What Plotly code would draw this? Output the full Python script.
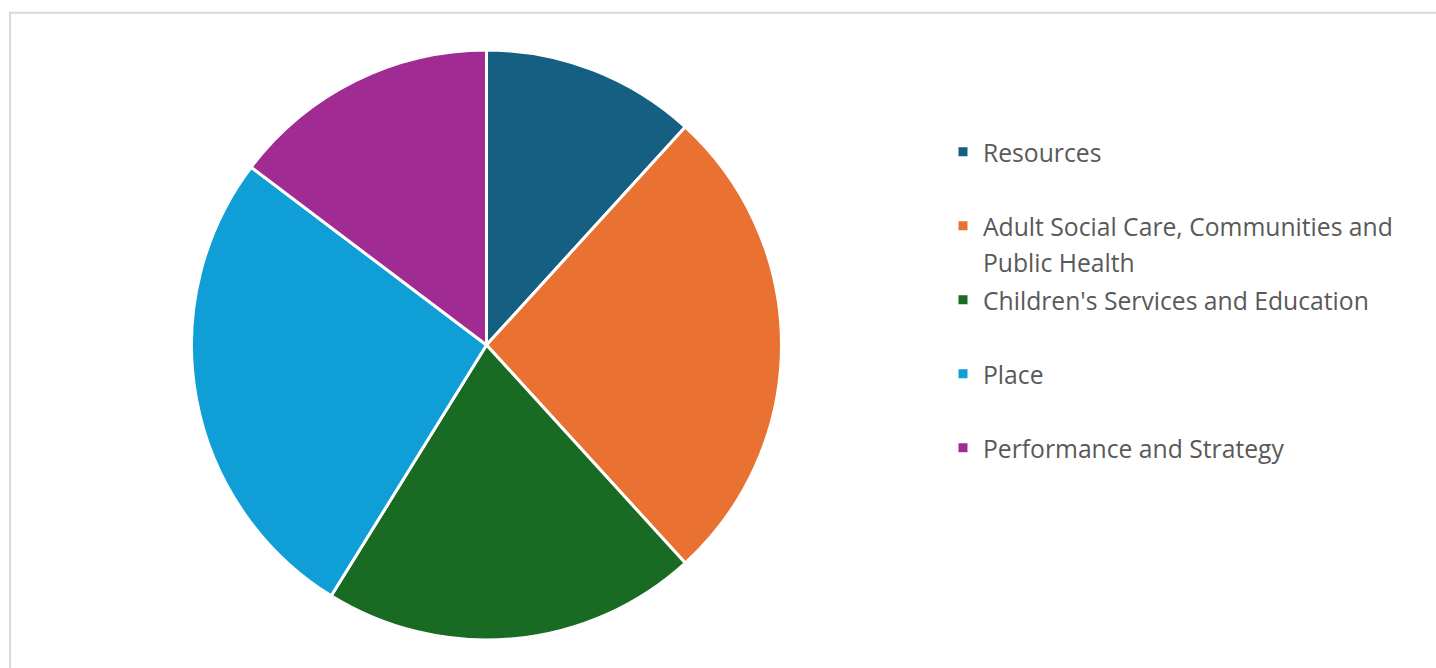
import plotly.graph_objects as go

categories = [
    "Resources",
    "Adult Social Care, Communities and<br>Public Health",
    "Children's Services and Education",
    "Place",
    "Performance and Strategy",
]
values = [8, 18, 14, 18, 10]
colors = ["#156082", "#E97132", "#196B24", "#0F9ED5", "#A02B93"]

W, H = 1436, 668
LEG_FONT = 27.3
TXT_SIZE = 24.7

def legend_label(c):
    lines = c.split("<br>")
    if len(lines) < 2:
        lines.append(" ")
    return "<br>".join(f'<span style="font-size:{TXT_SIZE}px">{ln}</span>' for ln in lines)

labels = [legend_label(c) for c in categories]

cx, cy, r = 486.5, 345.0, 295.0

fig = go.Figure(
    go.Pie(
        labels=labels,
        values=values,
        sort=False,
        direction="clockwise",
        rotation=0,
        marker=dict(colors=colors, line=dict(color="white", width=3)),
        textinfo="none",
        hovertext=[c.replace("<br>", " ") for c in categories],
        hoverinfo="text+value+percent",
        domain=dict(x=[(cx - r) / W, (cx + r) / W], y=[1 - (cy + r) / H, 1 - (cy - r) / H]),
    )
)

fig.update_layout(
    width=W,
    height=H,
    margin=dict(l=0, r=0, t=0, b=0, autoexpand=False),
    paper_bgcolor="white",
    plot_bgcolor="white",
    font=dict(family="Open Sans", color="#595959"),
    showlegend=True,
    legend=dict(
        x=(983 - 40) / W,
        xanchor="left",
        y=1 - 127.5 / H,
        yanchor="top",
        valign="top",
        font=dict(size=LEG_FONT, color="#595959", family="Open Sans"),
        bgcolor="rgba(0,0,0,0)",
        borderwidth=0,
    ),
    shapes=[
        dict(
            type="rect", xref="paper", yref="paper",
            x0=10 / W, x1=1.02, y0=-0.02, y1=1 - 12.8 / H,
            line=dict(color="#D9D9D9", width=2), fillcolor="rgba(0,0,0,0)", layer="below",
        )
    ],
)

fig.write_html(
    "out.html",
    config={"displayModeBar": False},
    post_script="document.body.style.margin='0';document.body.style.overflow='hidden';",
)
